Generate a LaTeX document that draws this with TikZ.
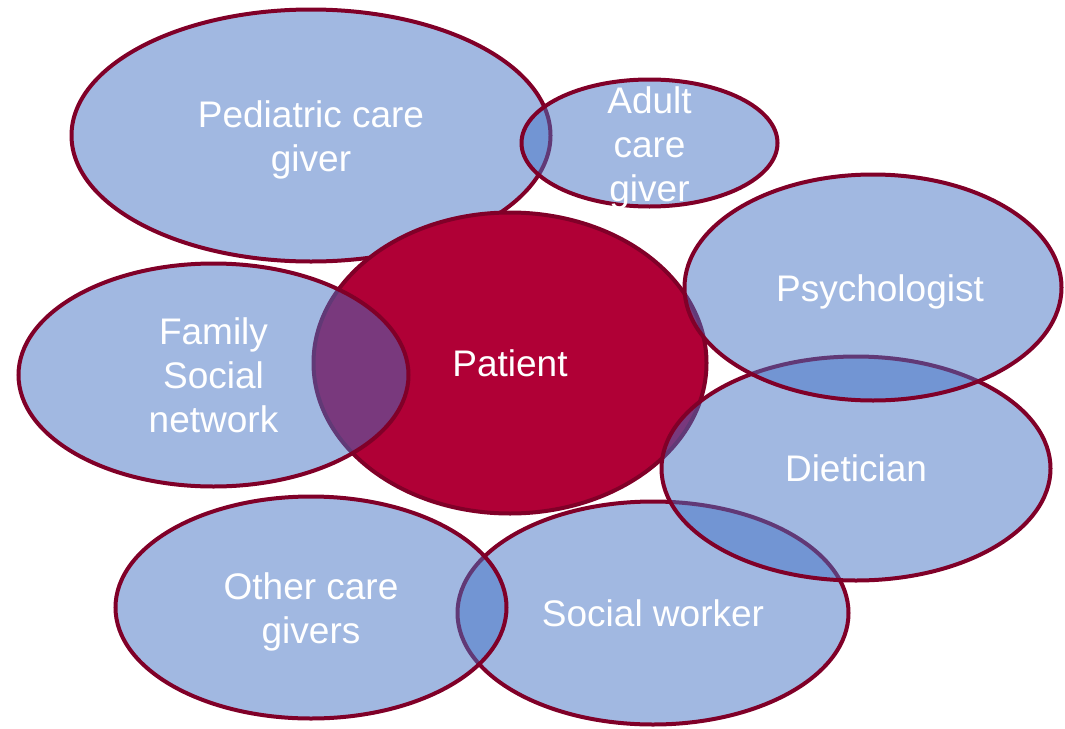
\documentclass[tikz,border=0pt]{standalone}
\usepackage{fontspec}
\setmainfont{Liberation Sans}
\usetikzlibrary{shapes.geometric}
\definecolor{wine}{RGB}{128,0,40}
\definecolor{berry}{RGB}{176,0,54}
\definecolor{officeblue}{RGB}{68,114,196}
\newcommand\tallstrut{\rule{0pt}{36pt}}

\begin{document}
\begin{tikzpicture}[x=1pt, y=1pt, words/.style={text=white, align=center, inner sep=0pt, font=\fontsize{37}{44}\selectfont}, bubble/.style={ellipse, draw=wine, line width=4pt, fill=officeblue, fill opacity=0.5, text opacity=1, words}, core/.style={bubble, fill=berry, fill opacity=1}]
\useasboundingbox (0,0) rectangle (1065,-728);
\draw (653.0, -613.0)node[bubble,minimum width=391,minimum height=223](social){Social worker};
\draw (311.0, -607.5)node[bubble,minimum width=391,minimum height=222](other){\tallstrut Other care\\givers};
\draw (311.0, -135.5)node[bubble,minimum width=479,minimum height=252](pediatric){\tallstrut Pediatric care\\giver};
% the text runs past the small ellipse, so it goes in a label
\draw (649.5, -143.0)node[bubble,minimum width=256,minimum height=127,label={[words]center:\tallstrut Adult\\care\\giver}](adult){};
\draw (510.0, -363.0)node[core,minimum width=393,minimum height=301](patient){Patient};
\draw (213.5, -375.0)node[bubble,minimum width=390,minimum height=223](family){Family\\Social\\network};
\draw (856.0, -468.5)node[bubble,minimum width=389,minimum height=224](dietician){Dietician};
\draw (873.0, -287.5)node[bubble,minimum width=377,minimum height=226](psychologist){\hspace*{14pt}\tallstrut Psychologist};
\end{tikzpicture}
\end{document}
